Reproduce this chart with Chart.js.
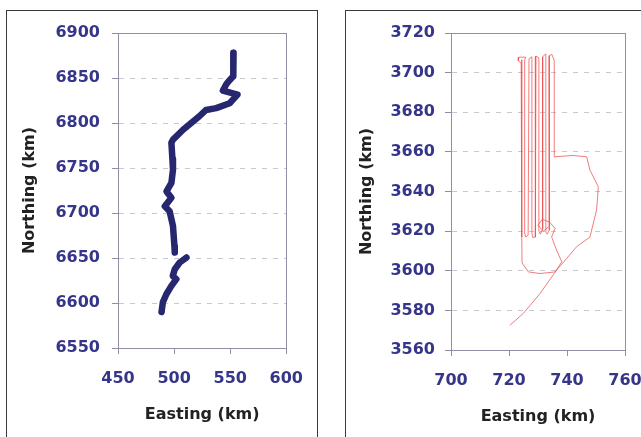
<!DOCTYPE html>
<html>
<head>
<meta charset="utf-8">
<script src="https://cdn.jsdelivr.net/npm/chart.js@4"></script>
<style>
  html, body { margin: 0; padding: 0; background: #fff; width: 641px; height: 437px; overflow: hidden; }
  .panel { position: absolute; }
  .frame { position: absolute; border: 1.5px solid #3a3a3a; box-sizing: border-box; pointer-events: none; }
</style>
</head>
<body>
<div class="panel" style="left:6px;top:10px;width:312px;height:427px;"><canvas id="kiri" width="312" height="427"></canvas></div>
<div class="frame" style="left:6px;top:10px;width:312px;height:440px;"></div>
<div class="panel" style="left:345px;top:10px;width:320px;height:427px;"><canvas id="kanan" width="320" height="427"></canvas></div>
<div class="frame" style="left:345px;top:10px;width:330px;height:440px;"></div>
<script>
// panel kiri: lintasan tebal, dua potongan
const eastA = [553, 553, 552.5, 549, 546.5, 543.5, 556.5, 549.5, 537.5, 528.5, 522.5, 508, 499, 497.6, 498.5, 499, 497.6, 493.2, 497.6, 491.7, 496, 499, 500.3, 500.6];
const northA = [6878, 6866, 6852, 6847, 6843, 6836, 6831.5, 6822, 6816.5, 6814.5, 6807.5, 6792.5, 6781.5, 6778, 6760, 6748, 6733.5, 6724, 6717, 6707.6, 6702, 6685.5, 6663, 6656];
const eastB = [511, 505, 500.6, 498.8, 502, 497.6, 493.2, 490, 488.8];
const northB = [6650.5, 6645, 6637.5, 6630, 6626.5, 6619, 6610, 6601, 6590];
const ticksEastKiri = [450, 500, 550, 600];
const ticksNorthKiri = [6550, 6600, 6650, 6700, 6750, 6800, 6850, 6900];

// panel kanan: lintasan terbang tipis
const eastC = [720.3, 724.9, 730.7, 736.4, 739.9, 743.3, 747.9, 750.2, 750.8, 747.9, 746.8, 742, 735.6, 735.6, 734.8, 733.8, 733.9, 733.2, 732.7, 732.7, 731.6, 731.6, 730.8, 730.3, 730.3, 729.3, 729.1, 728.2, 727.9, 727.9, 726.9, 726.6, 725.8, 725.4, 725.4, 725.8, 723.4, 723.2, 724.2, 724.4, 724.4, 724.5, 726.7, 730.7, 735.9, 738.2, 736.4, 734.7, 735.9, 734, 731.5, 730, 731.8, 733.5];
const northC = [3572.5, 3578.4, 3588.5, 3600.3, 3606.2, 3612.1, 3617, 3630.6, 3642.4, 3650.8, 3657.5, 3658.2, 3657.5, 3706, 3709.2, 3708.5, 3620.5, 3618.5, 3619.5, 3709.5, 3708, 3621, 3618.5, 3620, 3707.5, 3708.3, 3617, 3616.8, 3619, 3708, 3707, 3618, 3617, 3619, 3706.5, 3707.8, 3707.8, 3706, 3704.8, 3706.5, 3617, 3604, 3599.4, 3598.6, 3599.4, 3604.5, 3610.4, 3617.1, 3621.4, 3624.5, 3626, 3623, 3620, 3622];
const ticksEastKanan = [700, 720, 740, 760];
const ticksNorthKanan = [3560, 3580, 3600, 3620, 3640, 3660, 3680, 3700, 3720];

const warnaLabel = "#35358a";
const warnaSumbu = "#8f8fa6";

function titik(xs, ys) {
    let hasil = [];
    for (let i = 0; i < xs.length; i++) {
        hasil.push({ x: xs[i], y: ys[i] });
    }
    return hasil;
}

// bingkai area plot
const bingkai = {
    id: "bingkai",
    afterDraw(chart) {
        const a = chart.chartArea;
        const ctx = chart.ctx;
        ctx.save();
        ctx.strokeStyle = warnaSumbu;
        ctx.lineWidth = 1;
        ctx.strokeRect(Math.round(a.left) + 0.5, Math.round(a.top) + 0.5, Math.round(a.width), Math.round(a.height));
        ctx.restore();
    }
};

function buatSkala(ticksX, ticksY, opsi) {
    const fontTick = { family: "DejaVu Sans", weight: "bold", size: 16 };
    const fontJudul = { family: "DejaVu Sans", weight: "bold", size: 16, lineHeight: 1.2 };
    return {
        x: {
            type: "linear",
            min: ticksX[0],
            max: ticksX[ticksX.length - 1],
            afterBuildTicks: (s) => { s.ticks = ticksX.map(v => ({ value: v })); },
            afterFit: (s) => { s.height = opsi.tinggiX; },
            ticks: { color: warnaLabel, font: fontTick, padding: 15, maxRotation: 0, callback: v => v },
            grid: { drawOnChartArea: false, tickLength: 6, tickColor: warnaSumbu },
            border: { color: warnaSumbu },
            title: { display: true, text: "Easting (km)", color: "#222", font: fontJudul, padding: { top: 0, bottom: opsi.padJudulX } }
        },
        y: {
            type: "linear",
            min: ticksY[0],
            max: ticksY[ticksY.length - 1],
            afterBuildTicks: (s) => { s.ticks = ticksY.map(v => ({ value: v })); },
            afterFit: (s) => { s.width = opsi.lebarY; },
            ticks: { color: warnaLabel, font: fontTick, padding: opsi.padTickY, callback: v => v },
            grid: { color: "#c8c8d0", tickLength: 6, tickColor: warnaSumbu },
            border: { color: warnaSumbu, dash: [5, 6] },
            title: { display: true, text: "Northing (km)", color: "#222", font: fontJudul, padding: { top: opsi.padJudulY, bottom: 0 } }
        }
    };
}

function buatGrafikKiri() {
    let ctx = document.getElementById("kiri").getContext("2d");
    new Chart(ctx, {
        type: "scatter",
        data: {
            datasets: [
                { data: titik(eastA, northA), showLine: true, borderColor: "#27276f", borderWidth: 6.5, pointRadius: 0, borderJoinStyle: "round", borderCapStyle: "round" },
                { data: titik(eastB, northB), showLine: true, borderColor: "#27276f", borderWidth: 6.5, pointRadius: 0, borderJoinStyle: "round", borderCapStyle: "round" }
            ]
        },
        options: {
            responsive: false,
            animation: false,
            devicePixelRatio: 1,
            layout: { padding: { left: 0, top: 23, right: 31, bottom: 0 } },
            plugins: { legend: { display: false }, tooltip: { enabled: false } },
            scales: buatSkala(ticksEastKiri, ticksNorthKiri, { tinggiX: 89, lebarY: 112, padTickY: 12, padJudulX: 13, padJudulY: 14 })
        },
        plugins: [bingkai]
    });
}

function buatGrafikKanan() {
    let ctx = document.getElementById("kanan").getContext("2d");
    new Chart(ctx, {
        type: "scatter",
        data: {
            datasets: [
                { data: titik(eastC, northC), showLine: true, borderColor: "rgba(238,80,80,0.75)", borderWidth: 1, pointRadius: 0, tension: 0 }
            ]
        },
        options: {
            responsive: false,
            animation: false,
            devicePixelRatio: 1,
            layout: { padding: { left: 0, top: 23, right: 40, bottom: 0 } },
            plugins: { legend: { display: false }, tooltip: { enabled: false } },
            scales: buatSkala(ticksEastKanan, ticksNorthKanan, { tinggiX: 87, lebarY: 106, padTickY: 10, padJudulX: 11, padJudulY: 12 })
        },
        plugins: [bingkai]
    });
}

buatGrafikKiri();
buatGrafikKanan();
</script>
</body>
</html>
